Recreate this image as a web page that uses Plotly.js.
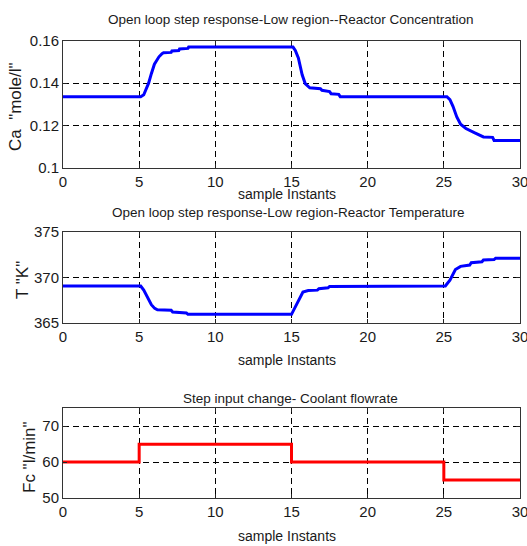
<!DOCTYPE html>
<html>
<head>
<meta charset="utf-8">
<script src="https://cdn.plot.ly/plotly-3.0.1.min.js"></script>
<style>
  html, body { margin: 0; padding: 0; background: #ffffff; }
  #chart { width: 527px; height: 546px; }
</style>
</head>
<body>
<div id="chart"></div>
<script>
// Reactor concentration Ca (mole/l) vs sample instants
const caTime = [0, 5.1, 5.3, 5.45, 5.62, 5.8, 6.0, 6.13, 6.3, 6.5, 6.6, 7.1, 7.15, 7.6, 7.65, 8.2, 8.25,
  15.1, 15.25, 15.45, 15.7, 15.9, 16.2, 16.9, 17.0, 17.5, 17.6, 18.1, 18.2,
  25.2, 25.4, 25.6, 25.85, 26.1, 26.45, 27.0, 27.5, 27.6, 28.2, 28.3, 30];
const caValue = [0.1336, 0.1336, 0.1345, 0.1372, 0.1400, 0.1445, 0.1490, 0.1505, 0.1525, 0.1540, 0.1544, 0.1546, 0.1553, 0.1555, 0.1562, 0.1565, 0.1571,
  0.1571, 0.1555, 0.1520, 0.1440, 0.1398, 0.1378, 0.1374, 0.1366, 0.1360, 0.1350, 0.1347, 0.1336,
  0.1336, 0.1322, 0.1290, 0.1240, 0.1205, 0.1185, 0.1165, 0.1150, 0.1145, 0.1143, 0.1128, 0.1128];

// Reactor temperature T (K) vs sample instants
const tempTime = [0, 5.1, 5.3, 5.58, 5.8, 6.02, 6.2, 7.1, 7.2, 8.1, 8.2,
  15.0, 15.3, 15.55, 15.75, 16.1, 16.7, 16.8, 17.4, 17.5,
  25.1, 25.4, 25.76, 26.1, 26.7, 26.8, 27.5, 27.6, 28.3, 28.4, 30];
const tempValue = [369.05, 369.05, 368.6, 367.7, 367.0, 366.6, 366.45, 366.4, 366.2, 366.1, 365.95,
  365.95, 366.9, 367.8, 368.4, 368.55, 368.6, 368.75, 368.85, 369.0,
  369.05, 369.7, 370.85, 371.2, 371.35, 371.6, 371.7, 371.9, 371.95, 372.1, 372.1];

// Coolant flowrate Fc (l/min) step input
const fcTime = [0, 5, 15, 25, 30];
const fcValue = [60, 65, 60, 55, 55];

// Tick labels
const xTicks = [0, 5, 10, 15, 20, 25, 30];
const caTicks = [0.1, 0.12, 0.14, 0.16];
const caTickText = ['0.1', '0.12', '0.14', '0.16'];
const tempTicks = [365, 370, 375];
const fcTicks = [50, 60, 70];

const W = 527, H = 546;
const sans = '"Liberation Sans", Arial, sans-serif';
const ink = '#1a1a1a';

const px = v => v / W;
const py = v => (H - v) / H;

function xAxis(anchor) {
  return {
    domain: [px(63), px(520)], anchor: anchor, range: [0, 30],
    tickvals: xTicks, ticks: 'inside', ticklen: 4, tickcolor: '#222',
    showline: true, linecolor: '#333', linewidth: 1, mirror: 'ticks',
    showgrid: true, gridcolor: '#000', griddash: '6px,4px', gridwidth: 1,
    zeroline: false, ticklabeloverflow: 'allow',
    tickfont: { family: sans, size: 15, color: ink }
  };
}
function yAxis(anchor, top, bottom, range, vals, text) {
  const ax = {
    domain: [py(bottom), py(top)], anchor: anchor, range: range,
    tickvals: vals, ticks: 'inside', ticklen: 4, tickcolor: '#222',
    showline: true, linecolor: '#333', linewidth: 1, mirror: 'ticks',
    showgrid: true, gridcolor: '#000', griddash: '6px,4px', gridwidth: 1,
    zeroline: false, ticklabeloverflow: 'allow',
    tickfont: { family: sans, size: 15, color: ink }
  };
  if (text) ax.ticktext = text;
  return ax;
}

const traces = [
  { x: caTime, y: caValue, xaxis: 'x', yaxis: 'y', mode: 'lines',
    line: { color: '#0000ff', width: 3 }, hoverinfo: 'skip' },
  { x: tempTime, y: tempValue, xaxis: 'x2', yaxis: 'y2', mode: 'lines',
    line: { color: '#0000ff', width: 3 }, hoverinfo: 'skip' },
  { x: fcTime, y: fcValue, xaxis: 'x3', yaxis: 'y3', mode: 'lines',
    line: { color: '#ff0000', width: 3, shape: 'hv' }, hoverinfo: 'skip' }
];

function label(text, x, y, size, opts) {
  return Object.assign({
    text: text, xref: 'paper', yref: 'paper', x: px(x), y: py(y),
    xanchor: 'center', yanchor: 'middle', showarrow: false,
    font: { family: sans, size: size, color: ink }
  }, opts || {});
}

const annotations = [
  label('Open loop step response-Low region--Reactor Concentration', 290, 20, 13.5),
  label('Open loop step response-Low region-Reactor Temperature', 288, 213, 13.5),
  label('Step input change- Coolant flowrate', 290, 398, 13.5),
  label('sample Instants', 287, 194, 14),
  label('sample Instants', 287, 360, 14),
  label('sample Instants', 287, 536, 14),
  label('Ca  "mole/l"', 16, 107, 17, { textangle: -90 }),
  label('T "K"', 22, 280, 17, { textangle: -90 }),
  label('Fc "l/min"', 29, 457, 17, { textangle: -90 })
];

const layout = {
  width: W, height: H,
  margin: { l: 0, r: 0, t: 0, b: 0 },
  paper_bgcolor: '#ffffff', plot_bgcolor: '#ffffff',
  showlegend: false,
  xaxis: xAxis('y'),
  yaxis: yAxis('x', 41, 167.5, [0.1, 0.16], caTicks, caTickText),
  xaxis2: xAxis('y2'),
  yaxis2: yAxis('x2', 231.7, 323, [365, 375], tempTicks),
  xaxis3: xAxis('y3'),
  yaxis3: yAxis('x3', 408.3, 498, [50, 75], fcTicks),
  annotations: annotations
};

Plotly.newPlot('chart', traces, layout, { staticPlot: true, displayModeBar: false });
</script>
</body>
</html>
